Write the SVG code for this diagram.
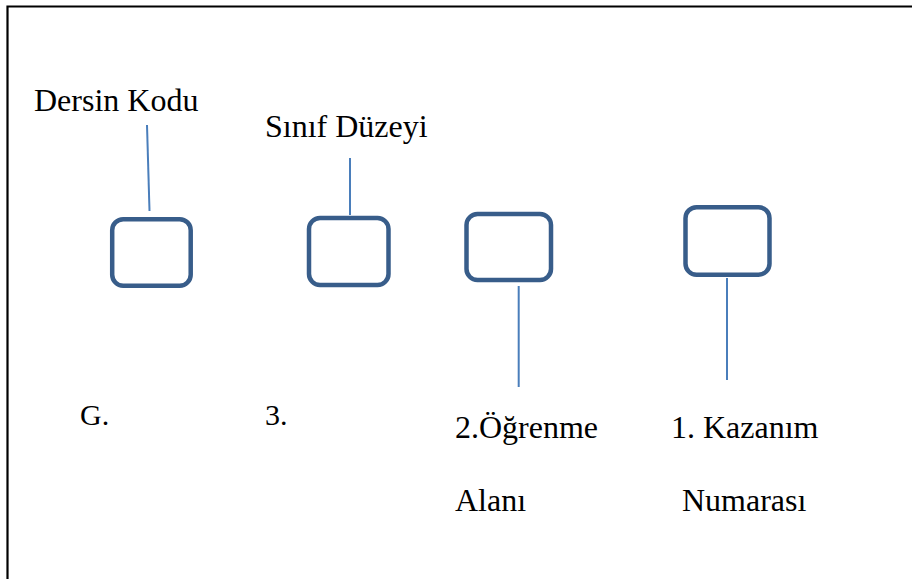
<svg xmlns="http://www.w3.org/2000/svg" width="912" height="579" viewBox="0 0 912 579">
<style>
.box{fill:#fff;stroke:#385D8A;stroke-width:4.5}
.con{stroke:#4A7EBB;stroke-width:2;fill:none}
text{font-family:'Liberation Serif','Times New Roman','DejaVu Serif',serif;font-size:32px;fill:#000}
.s{font-size:30px}
</style>
<rect width="912" height="579" fill="#fff"/>
<path d="M7.5,579 V6.5 H912" fill="none" stroke="#000" stroke-width="2.2"/>
<g id="connectors">
<line class="con" x1="147" y1="125" x2="149.5" y2="211"/>
<line class="con" x1="350" y1="158" x2="350" y2="215"/>
<line class="con" x1="518.7" y1="286" x2="518.7" y2="387"/>
<line class="con" x1="727" y1="278" x2="727" y2="380"/>
</g>
<g id="node-dersin-kodu">
<rect class="box" x="112.2" y="219.2" width="78.5" height="66.5" rx="11"/>
<text font-family="Liberation Serif, serif" x="34" y="110.5">Dersin Kodu</text>
<text font-family="Liberation Serif, serif" class="s" x="80" y="425">G.</text>
</g>
<g id="node-sinif-duzeyi">
<rect class="box" x="309" y="218" width="79.5" height="67" rx="11"/>
<text font-family="Liberation Serif, serif" x="265" y="137">Sınıf Düzeyi</text>
<text font-family="Liberation Serif, serif" class="s" x="265" y="425">3.</text>
</g>
<g id="node-ogrenme-alani">
<rect class="box" x="466.5" y="214" width="84.5" height="66" rx="11"/>
<text font-family="Liberation Serif, serif" x="455" y="437.5">2.Öğrenme</text>
<text font-family="Liberation Serif, serif" x="455" y="511">Alanı</text>
</g>
<g id="node-kazanim-numarasi">
<rect class="box" x="685.5" y="207.2" width="84" height="67.5" rx="11"/>
<text font-family="Liberation Serif, serif" x="671" y="437.5">1. Kazanım</text>
<text font-family="Liberation Serif, serif" x="682" y="511">Numarası</text>
</g>
</svg>
